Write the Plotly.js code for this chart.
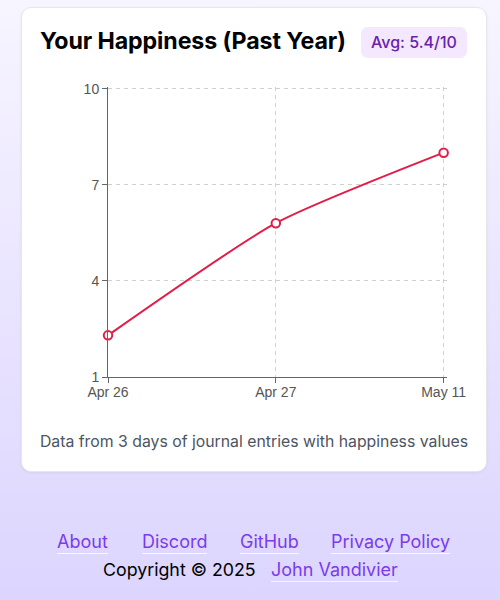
<!DOCTYPE html>
<html>
<head>
<meta charset="utf-8">
<script src="https://cdn.plot.ly/plotly-3.0.1.min.js"></script>
<style>
  html, body { margin:0; padding:0; width:500px; height:600px; overflow:hidden; }
  body { background: linear-gradient(180deg, #f7f5ff 0%, #ebe6ff 45%, #dcd5fe 100%); font-family: Inter, "Noto Sans", sans-serif; position:relative; }
  #card { position:absolute; left:21px; top:7px; width:464px; height:463px; background:#fff; border:1px solid #e5e7eb; border-radius:10px; box-shadow:0 1px 3px rgba(0,0,0,0.06); }
  #title { position:absolute; left:40px; top:27px; font-size:23.2px; font-weight:700; color:#000; letter-spacing:-0.1px; white-space:nowrap; }
  #badge { position:absolute; left:361px; top:27px; width:106px; height:31px; background:#f3e8ff; border-radius:7px; color:#6b21a8; font-size:16px; font-weight:500; line-height:31px; text-align:center; white-space:nowrap; }
  #chart { position:absolute; left:0; top:60px; width:500px; height:360px; }
  #caption { position:absolute; left:0; width:508px; top:432px; text-align:center; font-size:15.8px; color:#4b5563; white-space:nowrap; }
  .links { position:absolute; top:531px; left:0; width:500px; font-size:18px; }
  .links a { position:absolute; color:#7c3aed; text-decoration:none; border-bottom:1.5px solid rgba(255,255,255,0.8); padding-bottom:1px; white-space:nowrap; }
  #copy { position:absolute; top:559px; left:103px; font-size:17.8px; color:#000; white-space:nowrap; }
</style>
</head>
<body>
<div id="card"></div>
<div id="title">Your Happiness (Past Year)</div>
<div id="badge">Avg: 5.4/10</div>
<div id="chart"></div>
<div id="caption">Data from 3 days of journal entries with happiness values</div>
<div class="links">
  <a style="left:57px">About</a>
  <a style="left:142px">Discord</a>
  <a style="left:240px">GitHub</a>
  <a style="left:331px">Privacy Policy</a>
  <a style="left:271px; top:28px">John Vandivier</a>
</div>
<div id="copy">Copyright © 2025</div>
<script>
const dates = ["Apr 26", "Apr 27", "May 11"];
const happiness = [2.3, 5.8, 8.0];
const yTicks = [1, 4, 7, 10];

const trace = {
  x: dates, y: happiness, type: "scatter", mode: "lines+markers",
  line: { color: "#e11d48", width: 2, shape: "spline", smoothing: 0.6 },
  marker: { size: 8.5, color: "#ffffff", line: { color: "#e11d48", width: 2 } },
  hoverinfo: "none", cliponaxis: false
};
const layout = {
  width: 500, height: 360,
  margin: { l: 108, r: 56 - 3.36, t: 29 - 1.6, b: 43 },
  paper_bgcolor: "rgba(0,0,0,0)", plot_bgcolor: "rgba(0,0,0,0)",
  showlegend: false,
  font: { family: "Liberation Sans, Arial, sans-serif", size: 14, color: "#555" },
  xaxis: {
    type: "category", range: [0, 2.02], showgrid: true, gridcolor: "#d0d0d0", griddash: "4px,4px", gridwidth: 1,
    showline: true, linecolor: "#666", linewidth: 1, ticks: "outside", ticklen: 5, tickcolor: "#666",
    zeroline: false, fixedrange: true, tickfont: { size: 14, color: "#555" }, ticklabelstandoff: -3
  },
  yaxis: {
    range: [1, 10.05], tickvals: yTicks, ticktext: yTicks.map(String), showgrid: true, gridcolor: "#d0d0d0", griddash: "4px,4px",
    showline: true, linecolor: "#666", linewidth: 1, ticks: "outside", ticklen: 5, tickcolor: "#666",
    zeroline: false, fixedrange: true, tickfont: { size: 14, color: "#555" }
  }
};
Plotly.newPlot("chart", [trace], layout, { displayModeBar: false, staticPlot: true });
</script>
</body>
</html>
